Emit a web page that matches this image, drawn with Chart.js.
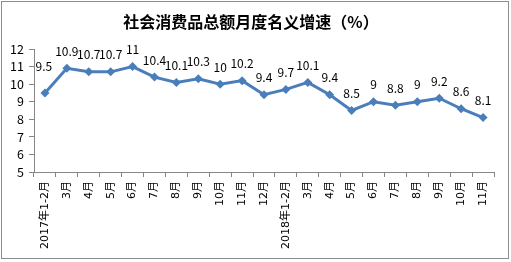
<!DOCTYPE html>
<html>
<head>
<meta charset="utf-8">
<script src="https://cdn.jsdelivr.net/npm/chart.js@4"></script>
<style>
  html, body { margin: 0; padding: 0; background: #fff; }
  #wrap { position: relative; width: 511px; height: 262px; }
</style>
</head>
<body>
<div id="wrap"><canvas id="c" width="511" height="262"></canvas></div>
<script>
/* ---- Data ---- */
const TITLE = "社会消费品总额月度名义增速（%）";
const months = [
  "2017年1-2月", "3月", "4月", "5月", "6月", "7月", "8月", "9月", "10月", "11月", "12月",
  "2018年1-2月", "3月", "4月", "5月", "6月", "7月", "8月", "9月", "10月", "11月",
];
const growth = [9.5, 10.9, 10.7, 10.7, 11, 10.4, 10.1, 10.3, 10, 10.2, 9.4,
                9.7, 10.1, 9.4, 8.5, 9, 8.8, 9, 9.2, 8.6, 8.1];
const yMin = 5, yMax = 12;

const FONT = "'Noto Sans CJK SC', 'Noto Sans', sans-serif";
const AXIS_FONT = "'DejaVu Sans', 'Noto Sans CJK SC', sans-serif";
const LINE = "#4A7EBB";
const AXIS = "#868686";

// frame + title + value labels, drawn straight on the canvas
const decor = {
  id: "decor",
  beforeDraw(chart) {
    const ctx = chart.ctx;
    ctx.save();
    ctx.fillStyle = "#fff";
    ctx.fillRect(0, 0, chart.width, chart.height);
    ctx.strokeStyle = "#8c8c8c";
    ctx.lineWidth = 1;
    ctx.strokeRect(1.5, 1.5, 507, 257);
    ctx.fillStyle = "#000";
    ctx.font = `bold 16px ${FONT}`;
    ctx.textAlign = "center";
    ctx.textBaseline = "middle";
    ctx.fillText(TITLE, 251, 22);
    ctx.restore();
  },
  afterDatasetsDraw(chart) {
    const ctx = chart.ctx;
    const meta = chart.getDatasetMeta(0);
    ctx.save();
    ctx.font = `12px ${FONT}`;
    ctx.fillStyle = "#000";
    ctx.textAlign = "center";
    ctx.textBaseline = "middle";
    meta.data.forEach((pt, i) => {
      const lift = i === 0 ? 26 : 17; // first label sits higher, clear of the line
      ctx.fillText(String(growth[i]), pt.x - (i === 0 ? 1 : 0), pt.y - lift);
    });
    ctx.restore();
  },
};

new Chart(document.getElementById("c"), {
  type: "line",
  data: {
    labels: months,
    datasets: [{
      data: growth,
      borderColor: LINE,
      backgroundColor: LINE,
      borderWidth: 3,
      pointStyle: "rectRot",
      pointRadius: 4.5,
      pointBorderWidth: 0,
      tension: 0,
    }],
  },
  options: {
    responsive: false,
    animation: false,
    layout: { padding: { left: 0, right: 17, top: 49, bottom: 0 } },
    plugins: { legend: { display: false }, title: { display: false }, tooltip: { enabled: false } },
    scales: {
      x: {
        offset: true,
        grid: { offset: true, drawOnChartArea: false, drawTicks: true, tickLength: 5, color: AXIS },
        border: { color: AXIS, width: 1 },
        ticks: {
          autoSkip: false, maxRotation: 90, minRotation: 90, padding: 4,
          color: "#000", font: { family: AXIS_FONT, size: 11 },
        },
        afterFit: (s) => { s.height = 90; },
      },
      y: {
        min: yMin, max: yMax,
        grid: { drawOnChartArea: false, drawTicks: true, tickLength: 5, color: AXIS },
        border: { color: AXIS, width: 1 },
        ticks: { stepSize: 1, autoSkip: false, padding: 5, color: "#000", font: { family: FONT, size: 12.5 } },
        afterFit: (s) => { s.width = 34; },
      },
    },
  },
  plugins: [decor],
});
</script>
</body>
</html>
